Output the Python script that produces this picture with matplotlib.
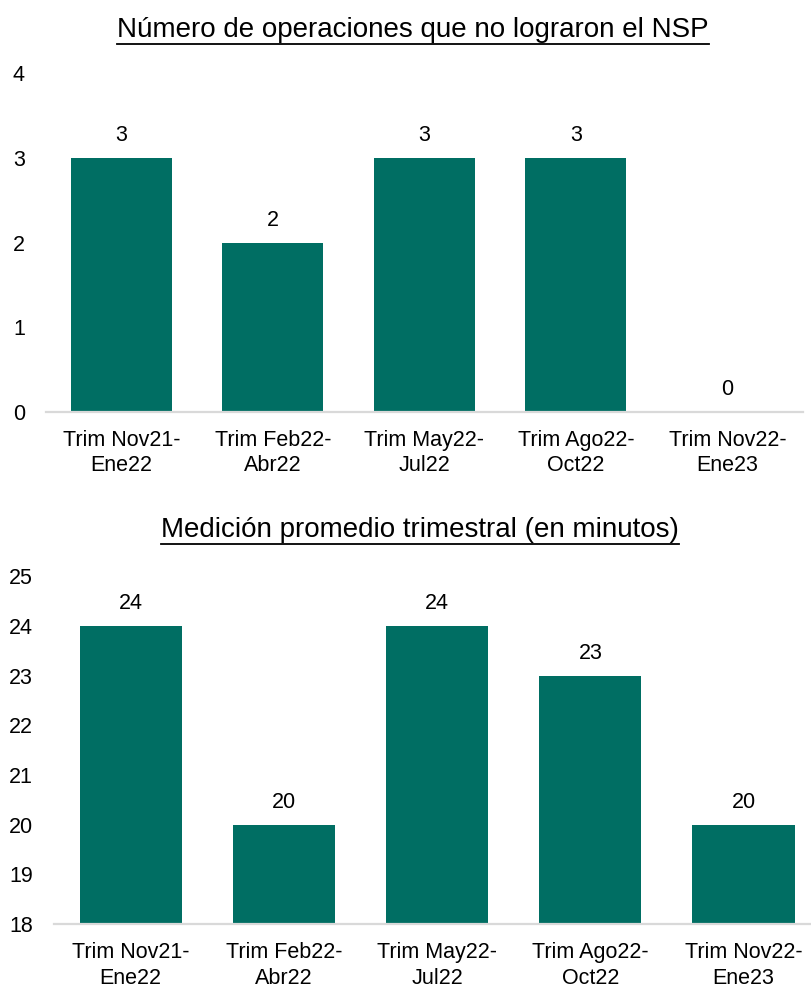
import matplotlib as mpl
import matplotlib.pyplot as plt
from matplotlib.lines import Line2D

# formato general
config = {
    "font.family": ['Liberation Sans Narrow', 'Liberation Sans', 'DejaVu Sans'],
    "font.size": 15,
    "axes.unicode_minus": False,
}
mpl.rcParams.update(config)

# datos
categorias = ['Trim Nov21-\nEne22', 'Trim Feb22-\nAbr22', 'Trim May22-\nJul22',
              'Trim Ago22-\nOct22', 'Trim Nov22-\nEne23']
operaciones_sin_nsp = [3, 2, 3, 3, 0]
promedio_minutos = [24, 20, 24, 23, 20]

titulo_1 = 'Número de operaciones que no lograron el NSP'
titulo_2 = 'Medición promedio trimestral (en minutos)'

color_barra = '#006e63'
color_eje = '#d9d9d9'

fig = plt.figure(figsize=(8.11, 9.89), dpi=100)
ax1 = fig.add_axes([0.0564, 0.5839, 0.9338, 0.3418])
ax2 = fig.add_axes([0.0666, 0.0657, 0.9334, 0.3516])


def dibujar(ax, valores, ymin, ymax, xmax):
    x = range(len(categorias))
    ax.bar(x, valores, width=0.667, color=color_barra, zorder=2)
    for i, v in zip(x, valores):
        ax.annotate(str(v), (i, v), xytext=(0, 8.5), textcoords='offset points',
                    ha='center', va='bottom', fontsize=15.5)
    ax.set_xlim(-0.5, xmax)
    ax.set_ylim(ymin, ymax)
    ax.set_xticks(list(x))
    ax.set_xticklabels(categorias, linespacing=1.3)
    ax.set_yticks(range(ymin, ymax + 1))
    for s in ['top', 'right', 'left']:
        ax.spines[s].set_visible(False)
    ax.spines['bottom'].set_color(color_eje)
    ax.spines['bottom'].set_linewidth(1.6)
    ax.tick_params(axis='both', length=0, labelsize=15.5)
    ax.tick_params(axis='x', pad=13)
    ax.tick_params(axis='y', pad=15)


dibujar(ax1, operaciones_sin_nsp, 0, 4, 4.5)
dibujar(ax2, promedio_minutos, 18, 25, 4.44)

# títulos subrayados
t1 = fig.text(413 / 811, 1 - 30 / 989, titulo_1, ha='center', va='center', fontsize=20)
t2 = fig.text(420 / 811, 1 - 530 / 989, titulo_2, ha='center', va='center', fontsize=20)

fig.canvas.draw()
r = fig.canvas.get_renderer()
W, H = fig.bbox.width, fig.bbox.height
for t in [t1, t2]:
    bb = t.get_window_extent(r)
    y = (bb.y0 - 1) / H
    fig.add_artist(Line2D([bb.x0 / W, bb.x1 / W], [y, y], color='black', lw=1.3,
                          transform=fig.transFigure))

fig.savefig('out.png', dpi=100)
